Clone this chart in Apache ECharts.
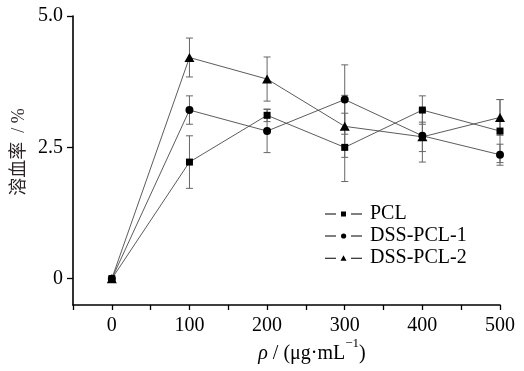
<!DOCTYPE html>
<html>
<head>
<meta charset="utf-8">
<script src="https://cdn.jsdelivr.net/npm/echarts@6/dist/echarts.min.js"></script>
<style>html,body{margin:0;padding:0;background:#fff}#c{width:524px;height:371px}</style>
</head>
<body>
<div id="c"></div>
<script>
var concentrations = [0, 100, 200, 300, 400, 500];
var seriesNames = ['PCL', 'DSS-PCL-1', 'DSS-PCL-2'];
var pclValues = [0, 2.22, 3.11, 2.50, 3.21, 2.81];
var pclErrors = [0, 0.50, 0.12, 0.65, 0.27, 0.60];
var dss1Values = [0, 3.21, 2.81, 3.41, 2.72, 2.36];
var dss1Errors = [0, 0.27, 0.41, 0.66, 0.50, 0.20];
var dss2Values = [0, 4.21, 3.80, 2.90, 2.70, 3.07];
var dss2Errors = [0, 0.37, 0.42, 0.59, 0.28, 0.34];
var yTickValues = [0, 2.5, 5];
var yTickLabels = ['0', '2.5', '5.0'];
var xTickLabels = ['0', '100', '200', '300', '400', '500'];

var FONT = "'Liberation Serif', 'Noto Sans CJK SC', serif";
var chart = echarts.init(document.getElementById('c'), null, {renderer: 'canvas'});

function pairs(vals) { return concentrations.map(function (x, i) { return [x, vals[i]]; }); }
function errData(vals, errs) {
  return concentrations.map(function (x, i) { return [x, vals[i] - errs[i], vals[i] + errs[i]]; });
}
function errSeries(vals, errs) {
  return {
    type: 'custom', silent: true, z: 1,
    data: errData(vals, errs),
    encode: {x: 0, y: [1, 2]},
    renderItem: function (params, api) {
      var x = api.value(0);
      var lo = api.coord([x, api.value(1)]);
      var hi = api.coord([x, api.value(2)]);
      if (Math.abs(lo[1] - hi[1]) < 0.5) return null;
      var w = 3.5;
      var st = {stroke: '#666666', lineWidth: 1};
      return {
        type: 'group',
        children: [
          {type: 'line', shape: {x1: lo[0], y1: lo[1], x2: hi[0], y2: hi[1]}, style: st},
          {type: 'line', shape: {x1: lo[0] - w, y1: lo[1], x2: lo[0] + w, y2: lo[1]}, style: st},
          {type: 'line', shape: {x1: hi[0] - w, y1: hi[1], x2: hi[0] + w, y2: hi[1]}, style: st}
        ]
      };
    }
  };
}
function lineSeries(name, vals, symbol, size) {
  return {
    name: name, type: 'line', z: 3,
    data: pairs(vals),
    symbol: symbol, symbolSize: size,
    lineStyle: {color: '#4a4a4a', width: 0.9},
    itemStyle: {color: '#000', borderWidth: 0},
    emphasis: {disabled: true},
    animation: false
  };
}
var icons = {
  'PCL': 'path://M0,4h11v1h-11z M16,2h5v5h-5z M26,4h11v1h-11z',
  'DSS-PCL-1': 'path://M0,4h11v1h-11z M16,4.5a2.6,2.6 0 1,0 5.2,0a2.6,2.6 0 1,0 -5.2,0z M26,4h11v1h-11z',
  'DSS-PCL-2': 'path://M0,4h11v1h-11z M15.5,7l3,-5.5l3,5.5z M26,4h11v1h-11z'
};

var option = {
  animation: false,
  backgroundColor: '#fff',
  grid: {left: 73, right: 24, top: 16, bottom: 66, containLabel: false},
  legend: {
    left: 325, top: 204, orient: 'vertical', padding: 0, itemGap: 2,
    itemWidth: 37, itemHeight: 9,
    selectedMode: false,
    data: seriesNames.map(function (n) { return {name: n, icon: icons[n]}; }),
    itemStyle: {color: '#000'},
    textStyle: {fontFamily: FONT, fontSize: 20, color: '#000', padding: [0, 0, 0, 3], lineHeight: 20}
  },
  xAxis: {
    type: 'value', min: -50, max: 500, interval: 50,
    axisLine: {show: true, onZero: false, lineStyle: {color: '#000', width: 1.6}},
    axisTick: {show: true, inside: false, length: 5, lineStyle: {color: '#000', width: 1.3}},
    splitLine: {show: false},
    axisLabel: {
      margin: 11, fontFamily: FONT, fontSize: 20, color: '#000',
      formatter: function (v) { var i = concentrations.indexOf(v); return i >= 0 ? xTickLabels[i] : ''; }
    }
  },
  yAxis: {
    type: 'value', min: -0.5, max: 5,
    axisLine: {show: true, onZero: false, lineStyle: {color: '#000', width: 1.6}},
    axisTick: {show: true, inside: false, length: 6, customValues: yTickValues, lineStyle: {color: '#000', width: 1.3}},
    splitLine: {show: false},
    axisLabel: {
      margin: 10, fontFamily: FONT, fontSize: 20, color: '#000',
      customValues: yTickValues,
      formatter: function (v) { var i = yTickValues.indexOf(v); return i >= 0 ? yTickLabels[i] : ''; }
    }
  },
  graphic: [
    {
      type: 'text', x: 19, y: 152, rotation: Math.PI / 2,
      style: {text: '溶血率  / %', fontFamily: FONT, fontSize: 18, fill: '#2a2226', align: 'center', verticalAlign: 'middle'}
    },
    {
      type: 'text', x: 312, y: 354,
      style: {
        text: '{i|ρ}{m| / (μg·mL}{s|−1}{m|)}',
        fontFamily: FONT, fontSize: 20, fill: '#000', align: 'center', verticalAlign: 'middle',
        rich: {
          i: {fontFamily: FONT, fontSize: 20, fontStyle: 'italic', fill: '#000', verticalAlign: 'middle'},
          m: {fontFamily: FONT, fontSize: 20, fill: '#000', verticalAlign: 'middle'},
          s: {fontFamily: FONT, fontSize: 13, fill: '#000', verticalAlign: 'top', padding: [0, 0, 20, 0]}
        }
      }
    }
  ],
  series: [
    errSeries(pclValues, pclErrors),
    errSeries(dss1Values, dss1Errors),
    errSeries(dss2Values, dss2Errors),
    lineSeries('PCL', pclValues, 'rect', 7),
    lineSeries('DSS-PCL-1', dss1Values, 'circle', 8),
    lineSeries('DSS-PCL-2', dss2Values, 'triangle', [10, 9])
  ]
};
chart.setOption(option);
</script>
</body>
</html>
